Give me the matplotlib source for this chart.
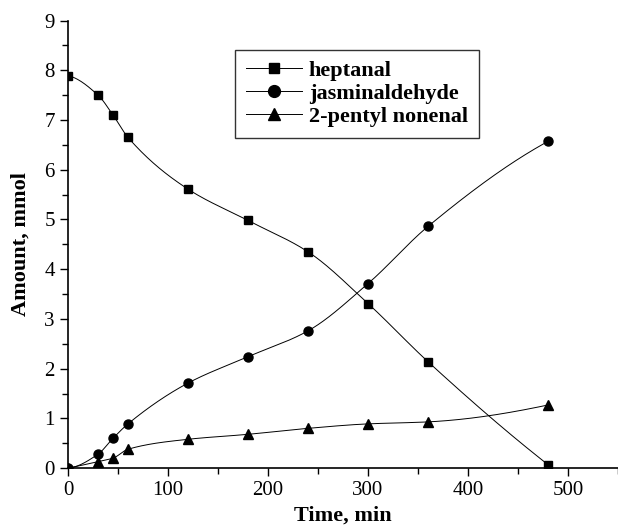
import numpy as np
import matplotlib
matplotlib.use("Agg")
import matplotlib.pyplot as plt
from matplotlib.ticker import MultipleLocator

# sampling times (min)
time = [0, 30, 45, 60, 120, 180, 240, 300, 360, 480]

heptanal = [7.89, 7.50, 7.10, 6.65, 5.61, 4.98, 4.35, 3.31, 2.14, 0.07]
jasmin = [0.0, 0.28, 0.60, 0.89, 1.71, 2.24, 2.76, 3.71, 4.86, 6.57]
pentyl = [0.0, 0.13, 0.20, 0.38, 0.58, 0.68, 0.80, 0.89, 0.93, 1.27]

labels = ["heptanal", "jasminaldehyde", "2-pentyl nonenal"]
markers = ["s", "o", "^"]
msizes = [5.5, 6.5, 7]


def smooth(x, y, n=400):
    # monotone cubic (pchip) curve through the points, like the origin line
    x = np.asarray(x, float)
    y = np.asarray(y, float)
    h = np.diff(x)
    d = np.diff(y) / h
    k = len(x)
    m = np.zeros(k)
    for i in range(1, k - 1):
        if d[i - 1] * d[i] > 0:
            w1 = 2 * h[i] + h[i - 1]
            w2 = h[i] + 2 * h[i - 1]
            m[i] = (w1 + w2) / (w1 / d[i - 1] + w2 / d[i])
    m[0] = ((2 * h[0] + h[1]) * d[0] - h[0] * d[1]) / (h[0] + h[1])
    if np.sign(m[0]) != np.sign(d[0]):
        m[0] = 0
    m[-1] = ((2 * h[-1] + h[-2]) * d[-1] - h[-1] * d[-2]) / (h[-1] + h[-2])
    if np.sign(m[-1]) != np.sign(d[-1]):
        m[-1] = 0
    xs = np.linspace(x[0], x[-1], n)
    idx = np.clip(np.searchsorted(x, xs) - 1, 0, k - 2)
    t = (xs - x[idx]) / h[idx]
    h00 = 2 * t ** 3 - 3 * t ** 2 + 1
    h10 = t ** 3 - 2 * t ** 2 + t
    h01 = -2 * t ** 3 + 3 * t ** 2
    h11 = t ** 3 - t ** 2
    ys = (h00 * y[idx] + h10 * h[idx] * m[idx] + h01 * y[idx + 1]
          + h11 * h[idx] * m[idx + 1])
    return xs, ys


plt.rcParams["font.family"] = ["Liberation Serif", "DejaVu Serif"]

fig = plt.figure(figsize=(6.18, 5.26), dpi=100)
ax = fig.add_axes([0.110, 0.110, 0.890, 0.851])

for ys, lab, m, ms in zip([heptanal, jasmin, pentyl], labels, markers, msizes):
    sx, sy = smooth(time, ys)
    ax.plot(sx, sy, color="black", lw=0.7)
    ax.plot(time, ys, linestyle="none", marker=m, ms=ms, color="black")
    # legend proxy
    ax.plot([], [], color="black", lw=0.7, marker=m, ms=ms + 2, label=lab)

ax.set_xlim(0, 550)
ax.set_ylim(0, 9)
ax.xaxis.set_major_locator(MultipleLocator(100))
ax.xaxis.set_minor_locator(MultipleLocator(50))
ax.yaxis.set_major_locator(MultipleLocator(1))
ax.yaxis.set_minor_locator(MultipleLocator(0.5))
ax.tick_params(which="major", direction="out", length=6, width=1, labelsize=15)
ax.tick_params(which="minor", direction="out", length=4, width=1)
ax.spines["top"].set_visible(False)
ax.spines["right"].set_visible(False)
for s in ["left", "bottom"]:
    ax.spines[s].set_linewidth(1.2)

ax.set_xlabel("Time, min", fontsize=16, fontweight="bold", labelpad=4)
ax.set_ylabel("Amount, mmol", fontsize=16, fontweight="bold", labelpad=10)

leg = ax.legend(loc="upper left", bbox_to_anchor=(0.284, 0.96),
                prop={"size": 16, "weight": "bold"}, frameon=True,
                fancybox=False, edgecolor="black", handlelength=2.5,
                handletextpad=0.3, labelspacing=0.1, borderpad=0.5)
leg.get_frame().set_linewidth(1.0)

fig.savefig("out.png", dpi=100)
